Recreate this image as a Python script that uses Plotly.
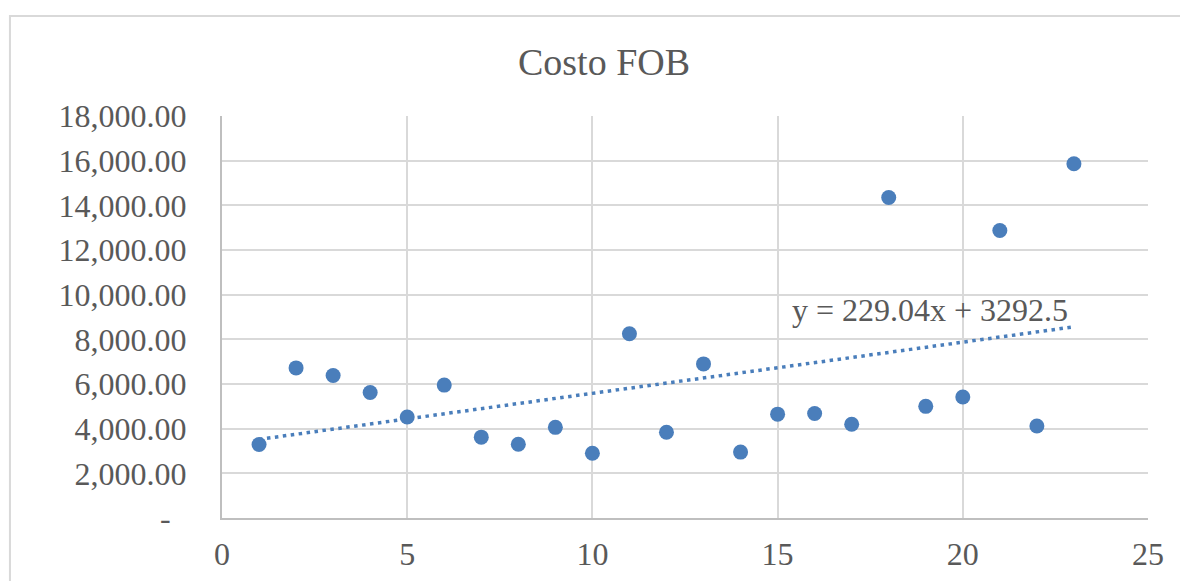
import plotly.graph_objects as go

# data
x_vals = list(range(1, 24))
costo_fob = [3290, 6720, 6380, 5620, 4520, 5950, 3620, 3300, 4060, 2900,
             8250, 3840, 6900, 2950, 4650, 4680, 4200, 14350, 5000, 5420,
             12870, 4120, 15860]

# linear trendline as printed on the chart
slope = 229.04
intercept = 3292.5
trend_x = [x_vals[0], x_vals[-1]]
trend_y = [slope * v + intercept for v in trend_x]

y_ticks = [0, 2000, 4000, 6000, 8000, 10000, 12000, 14000, 16000, 18000]
y_ticktext = ["-\u00a0\u00a0"] + [f"{v:,.2f}" for v in y_ticks[1:]]
x_ticks = [0, 5, 10, 15, 20, 25]

blue = "#4a7ebb"
grey_txt = "#595959"
font_family = "Liberation Serif, Times New Roman, serif"

fig = go.Figure()

fig.add_trace(go.Scatter(
    x=trend_x, y=trend_y,
    mode="lines",
    line=dict(color=blue, width=3.5, dash="3.5px,4.5px"),
    hoverinfo="skip",
    showlegend=False))

fig.add_trace(go.Scatter(
    x=x_vals, y=costo_fob,
    mode="markers",
    marker=dict(color=blue, size=15),
    name="Costo FOB",
    showlegend=False))

# page body adds 8px offset, so margins are shifted to compensate
fig.update_layout(
    width=1188, height=581,
    margin=dict(l=214, r=48, t=108, b=71),
    paper_bgcolor="white",
    plot_bgcolor="white",
    font=dict(family=font_family, color=grey_txt, size=32),
    title=dict(text="Costo FOB", x=0.5017, xanchor="center",
               y=0.907, yanchor="middle",
               font=dict(size=38, color=grey_txt, family=font_family)),
    xaxis=dict(
        range=[0, 25], tickvals=x_ticks,
        showgrid=True, gridcolor="#d9d9d9", gridwidth=1.5,
        showline=True, linecolor="#bfbfbf", linewidth=2,
        zeroline=False, ticks="", ticklabelstandoff=7),
    yaxis=dict(
        range=[0, 18000], tickvals=y_ticks, ticktext=y_ticktext,
        showgrid=True, gridcolor="#d9d9d9", gridwidth=1.5,
        showline=True, linecolor="#bfbfbf", linewidth=2,
        zeroline=False, ticks="", ticklabelstandoff=27),
    annotations=[dict(
        x=0.7646, y=0.518, xref="paper", yref="paper",
        text="y = 229.04x + 3292.5", showarrow=False,
        xanchor="center", yanchor="middle",
        font=dict(size=32, color=grey_txt, family=font_family))],
    shapes=[dict(
        type="rect", xref="paper", yref="paper",
        x0=-0.229, x1=1.2, y0=-0.3, y1=1.2488,
        line=dict(color="#d9d9d9", width=2), layer="below")],
)

fig.write_html("out.html")
